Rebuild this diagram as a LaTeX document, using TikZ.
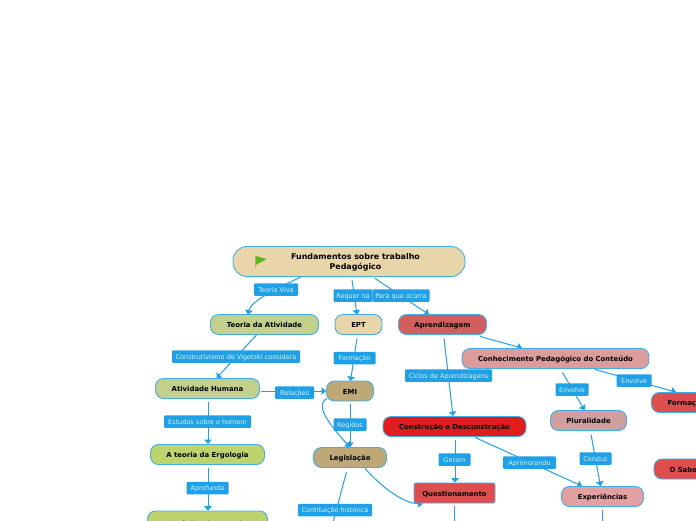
\documentclass[tikz,border=0pt]{standalone}
\usepackage{fontspec}
\setmainfont{DejaVu Sans}
\usetikzlibrary{arrows.meta,backgrounds,calc}
\definecolor{linkblue}{HTML}{20A0E6}
\definecolor{rootfill}{HTML}{E8D5A9}
\definecolor{olive}{HTML}{C3D08C}
\definecolor{lime}{HTML}{BDD46E}
\definecolor{tan}{HTML}{BEA878}
\definecolor{brick}{HTML}{D25E5E}
\definecolor{coral}{HTML}{DE4E4E}
\definecolor{vivid}{HTML}{E01C1C}
\definecolor{rose}{HTML}{DC9C9C}
\definecolor{rosegray}{HTML}{D0A0A0}
\definecolor{salmon}{HTML}{E2A0A0}
\definecolor{flag}{HTML}{5DB81E}

\begin{document}
\begin{tikzpicture}[x=1pt,y=1pt,
  topic/.style={rectangle, draw=linkblue!85!white, rounded corners=8pt, line width=0.9pt,
                minimum height=20pt, inner sep=0pt, align=center,
                text height=6.5pt, text depth=0.5pt,
                font=\fontsize{6.9}{8.2}\selectfont\bfseries},
  linklabel/.style={rectangle, fill=linkblue, rounded corners=1pt, text=white!85!linkblue,
                    minimum height=12.5pt, inner sep=0pt, align=center,
                    text height=5.5pt, text depth=0.5pt,
                    font=\fontsize{6.5}{7.5}\selectfont},
  link/.style={-{Triangle[length=4.5pt,width=7.5pt]}, linkblue, line width=1pt},
  plainlink/.style={linkblue, line width=1pt},
]
\useasboundingbox (0,0) rectangle (696,-520);

% topics
\node[topic, minimum width=232pt, minimum height=30pt, rounded corners=14pt, fill=rootfill,
      text height=, text depth=,
      font=\fontsize{7.9}{9.4}\selectfont\bfseries] (root) at (349,-261.5) {\rule{0pt}{8pt}\hspace*{13pt}Fundamentos sobre trabalho\\\hspace*{13pt}Pedagógico};
\fill[tan] (254.5,-255.5) rectangle (256,-267);
\fill[flag] (256,-256) -- (266.5,-259) -- (256,-265) -- cycle;

\node[topic, minimum width=108pt, fill=olive] (teoria) at (264.5,-324.5) {Teoria da Atividade};
\node[topic, minimum width=47pt, fill=rootfill] (ept) at (358.5,-324.5) {EPT};
\node[topic, minimum width=88pt, fill=brick] (aprend) at (442.5,-324.5) {Aprendizagem};
\node[topic, minimum width=187pt, fill=rose] (cpc) at (555.5,-358.5) {Conhecimento Pedagógico do Conteúdo};
\node[topic, minimum width=104pt, fill=olive] (ativ) at (207.5,-388.5) {Atividade Humana};
\node[topic, minimum width=47pt, fill=tan] (emi) at (350,-391) {EMI};
\node[topic, minimum width=76pt, fill=rosegray] (plural) at (588.5,-420.5) {Pluralidade};
\node[topic, minimum width=143pt, fill=vivid] (constr) at (454.5,-426.5) {Construção e Desconstrução};
\node[topic, minimum width=114pt, fill=lime] (ergo) at (207.5,-454.5) {A teoria da Ergologia};
\node[topic, minimum width=73pt, fill=tan] (legis) at (350,-457.5) {Legislação};
\node[topic, minimum width=81pt, rounded corners=2pt, fill=coral] (quest) at (454.5,-493) {Questionamento};
\node[topic, minimum width=82pt, fill=salmon] (exper) at (602.5,-496.5) {Experiências};
\node[topic, minimum width=120pt, minimum height=25pt, fill=lime] (ergon) at (207.5,-523.5) {Ergônica da Ergonia};
\node[topic, minimum width=70pt, fill=coral, anchor=west] (form) at (651,-402.5) {Formação};
\node[topic, minimum width=62pt, fill=coral, anchor=west] (saber) at (653.5,-469) {O Saber};

% link labels
\node[linklabel, minimum width=44pt] (lteoria) at (276,-289.5) {Teoria Viva};
\node[linklabel, minimum width=39pt] (lrequer) at (353,-295.5) {Requer na};
\node[linklabel, minimum width=57pt] (locorra) at (401,-295.5) {Para que ocorra};
\node[linklabel, minimum width=128pt] (lvigot) at (236,-356.5) {Construtivismo de Vigotski considera};
\node[linklabel, text width=34pt, inner xsep=4pt] (lform) at (354.5,-358) {Formação};
\node[linklabel, minimum width=87pt] (lciclos) at (448.5,-375.5) {Ciclos de Aprendizagens};
\node[linklabel, minimum width=39pt] (lrel) at (294.5,-392.5) {Relações};
\node[linklabel, minimum width=33pt] (lenv1) at (572,-389.5) {Envolve};
\node[linklabel, minimum width=35pt] (lenv2) at (634,-380.5) {Envolve};
\node[linklabel, minimum width=87pt] (lhomem) at (207.5,-421.5) {Estudos sobre o homem};
\node[linklabel, minimum width=33pt] (lreg) at (350,-424.5) {Regidos};
\node[linklabel, text width=24pt, inner xsep=4pt] (lgeram) at (454.5,-459.5) {Geram};
\node[linklabel, minimum width=32pt] (lcond) at (595.5,-458.5) {Conduz};
\node[linklabel, minimum width=53pt] (lapr) at (529.5,-462.5) {Aprimorando};
\node[linklabel, minimum width=42pt] (lapro) at (207.5,-488) {Aprofunda};
\node[linklabel, minimum width=74pt] (lconst) at (335,-510) {Contituição histórica};

% free ends below the page
\coordinate (endconst) at (330.5,-532);
\coordinate (endquest) at (454.5,-532);
\coordinate (endexper) at (602.5,-532);

% links
\begin{scope}[on background layer]
\draw[link] ($(root.south)+(-48,0)$) .. controls ($(lteoria)+(-4,-1)$) and ($(teoria.north)+(-14,12)$) .. ($(teoria.north)+(-16.5,-0.5)$);
\draw[link] ($(root.south)+(3,-3)$) -- ($(ept.north)+(-1.5,-0.5)$);
\draw[link] ($(root.south)+(26,-1.5)$) -- ($(aprend.north)+(-13.5,-0.5)$);
\draw[link] ($(teoria.south)+(-8,0)$) -- ($(ativ.north)+(9,0)$);
\draw[link] ($(ept.south)+(-1.5,-3.5)$) -- ($(emi.north)+(0.5,-0.5)$);
\draw[link] (ativ.east |- emi) ++(1,0) -- (emi.west);
\draw[link] ($(ativ.south)+(0.5,-3.5)$) -- ($(ergo.north)+(0.5,0)$);
\draw[link] ($(ergo.south)+(0.5,-3.5)$) -- ($(ergon.north)+(0.5,0)$);
\draw[link] ($(emi.south)+(0,-3)$) -- (legis.north);
\draw[link] ($(emi.west)+(1,-7.5)$) .. controls ($(emi.west)+(-8,-12)$) and ($(emi.west)+(-6,-24)$) .. (legis.north);
\draw[link] ($(legis.south)+(15,-0.5)$) .. controls ($(legis.south)+(38,-26)$) and ($(quest.south west)+(-6,0)$) .. ($(quest.south west)+(9,-0.5)$);
\draw[plainlink] ($(legis.south)+(-3.5,-4)$) -- (endconst);
\draw[link] ($(aprend.south)+(1.5,-3.5)$) -- (constr.north -| 453,0);
\draw[link] ($(aprend.south east)+(-7,-1.5)$) -- ($(cpc.north)+(-33.5,0)$);
\draw[link] ($(cpc.south)+(7,-3.5)$) -- ($(plural.north)+(-4,0)$);
\draw[link] ($(cpc.south)+(39.5,-0.5)$) -- ($(form.north)+(-10.5,0)$);
\draw[link] ($(constr.south)+(0.5,-3.5)$) -- ($(quest.north)+(0.5,0)$);
\draw[link] ($(constr.south)+(20.5,-0.5)$) -- ($(exper.north)+(-20.5,0)$);
\draw[link] ($(plural.south)+(2.5,-3.5)$) -- ($(exper.north)+(-2,0)$);
\draw[plainlink] ($(quest.south)+(0,-3)$) -- (endquest);
\draw[plainlink] ($(exper.south)+(0,-3)$) -- (endexper);
\end{scope}
\end{tikzpicture}
\end{document}
